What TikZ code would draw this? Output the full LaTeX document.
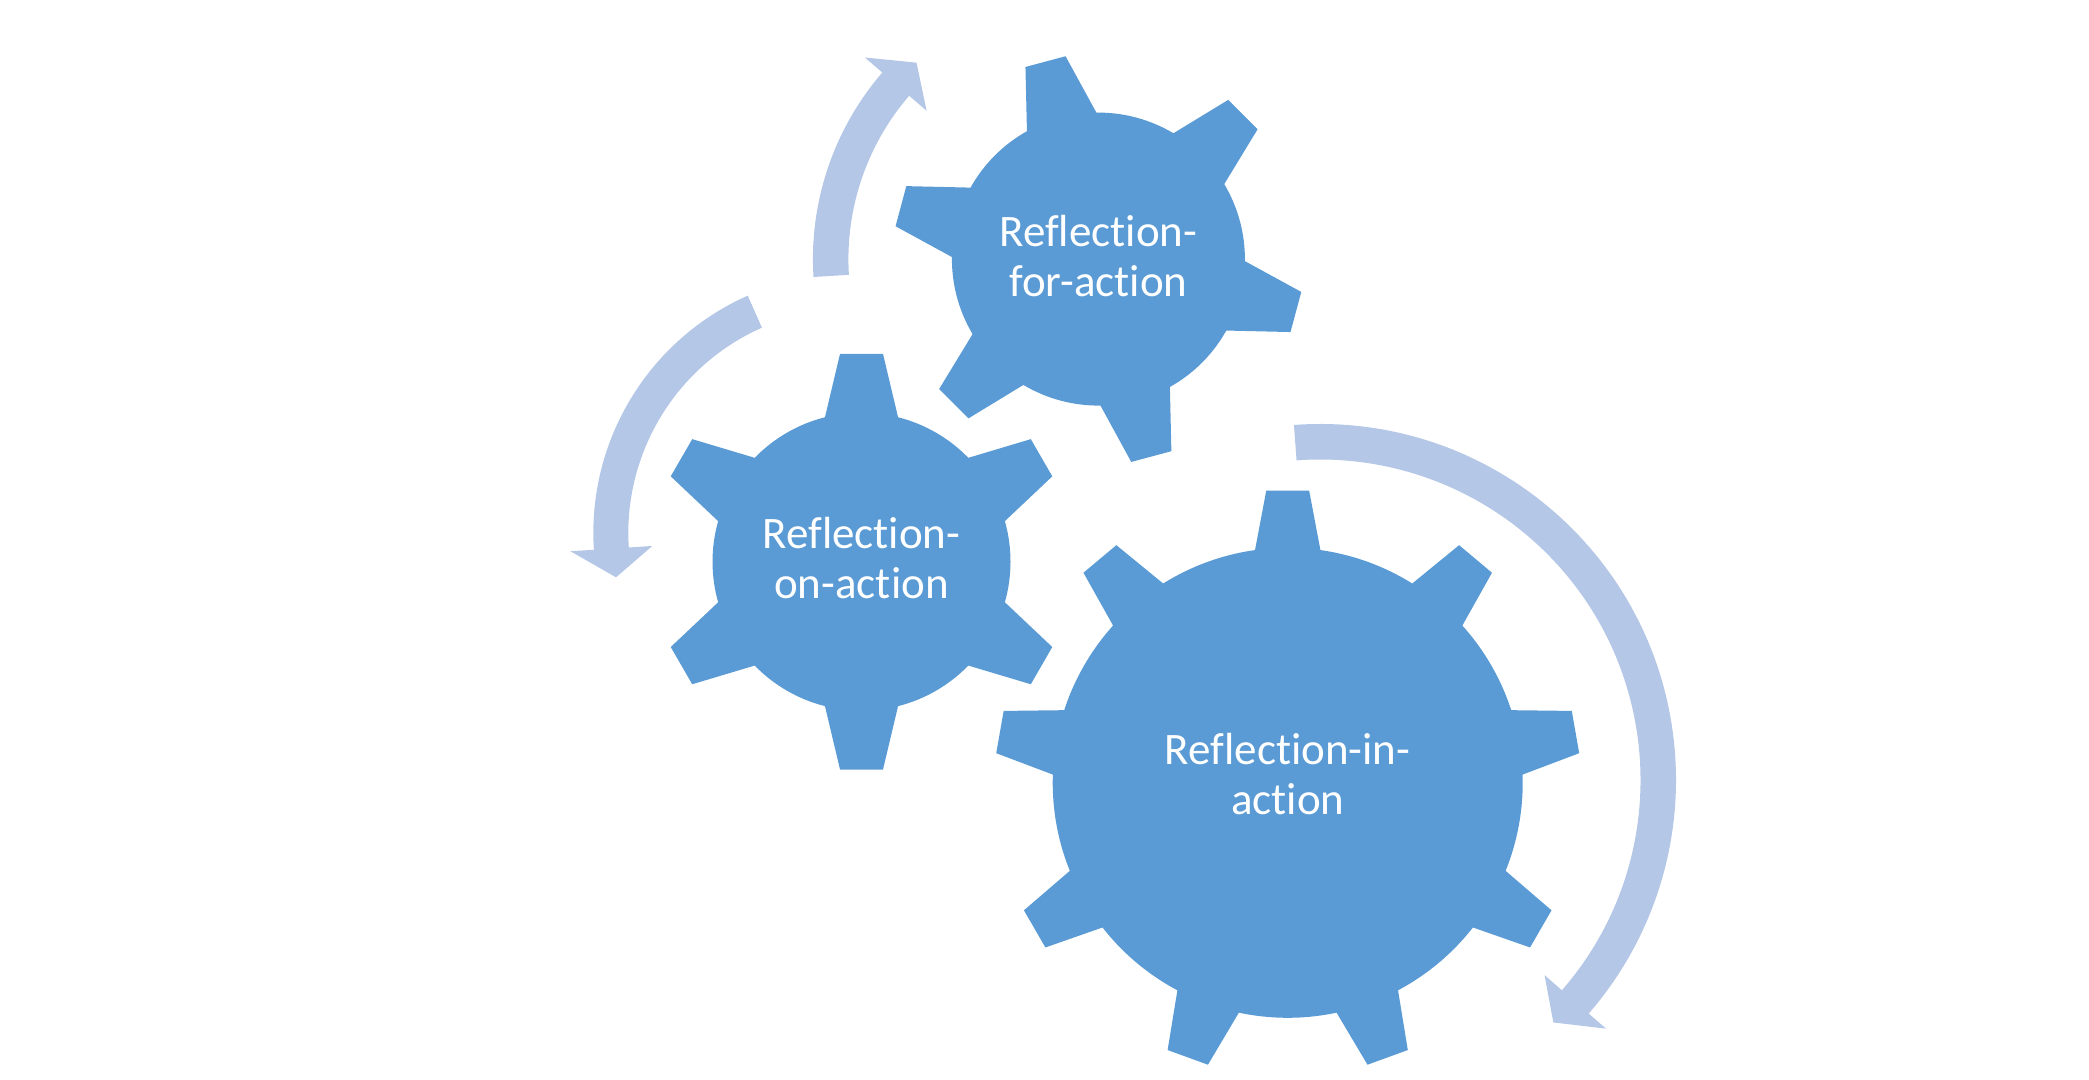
\documentclass[tikz,border=0pt]{standalone}
\usepackage{fontspec}
\setmainfont{Carlito}[Ligatures={NoCommon,NoContextual}]
\definecolor{gearblue}{RGB}{91,155,213}
\definecolor{arrowblue}{RGB}{180,199,231}
\tikzset{
  gear/.style={fill=gearblue},
  turn/.style={fill=arrowblue},
  geartext/.style={text=white,align=center,inner sep=0pt,
    font=\fontsize{12.8pt}{14.2pt}\selectfont}
}
% #1 centre, #2 teeth, #3 first tooth angle, #4 tip radius,
% #5 tip half angle, #6 body radius, #7 root half angle
\newcommand{\gearshape}[7]{%
  \fill[gear,shift={#1}] ({#3-#7}:#6)
  \foreach \k in {1,...,#2}{
    -- ({#3+(\k-1)*360/#2-#5}:#4) -- ({#3+(\k-1)*360/#2+#5}:#4)
    -- ({#3+(\k-1)*360/#2+#7}:#6)
    arc[start angle={#3+(\k-1)*360/#2+#7},end angle={#3+\k*360/#2-#7},radius=#6]
  } -- cycle;}

\begin{document}
\begin{tikzpicture}[x=0.01cm,y=0.01cm]
  \useasboundingbox (0,0) rectangle (2089,1079);
  % gears
  \gearshape{(1098.4,819.9)}{6}{105}{205.5}{5.8}{146.5}{14.2}
  \gearshape{(861.5,517.3)}{6}{90}{209}{5.9}{149}{14.2}
  \gearshape{(1287.7,296.2)}{9}{90}{293}{4.2}{235}{8}
  % turning arrows
  \begin{scope}[shift={(852.9,546)}]
    \fill[turn] (113.9:259.6) arc[start angle=113.9,end angle=183.7,radius=259.6]
      -- (183.7:283) -- (190.6:241) -- (183.7:201) -- (183.7:224.6)
      arc[start angle=183.7,end angle=113.9,radius=224.6] -- cycle;
  \end{scope}
  \begin{scope}[shift={(1098.4,819.9)}]
    \fill[turn] (183.6:285.5) arc[start angle=183.6,end angle=139.2,radius=285.5]
      -- (139.2:308.5) -- (132.8:267.7) -- (139.2:227) -- (139.2:250)
      arc[start angle=139.2,end angle=183.6,radius=250] -- cycle;
  \end{scope}
  \begin{scope}[shift={(1320,299)}]
    \fill[turn] (94.2:356) arc[start angle=94.2,end angle=-41,radius=356]
      -- (-41:379) -- (-46.1:336.5) -- (-41:297.5) -- (-41:320.5)
      arc[start angle=-41,end angle=94.2,radius=320.5] -- cycle;
  \end{scope}
  % labels
  \node[geartext] (forlabel) at (1098.4,823.4) {Reflection-\\for-action};
  \node[geartext] (onlabel) at (861.5,521.3) {Reflection-\\on-action};
  \node[geartext] (inlabel) at (1287.7,305) {Reflection-in-\\action};
\end{tikzpicture}
\end{document}
